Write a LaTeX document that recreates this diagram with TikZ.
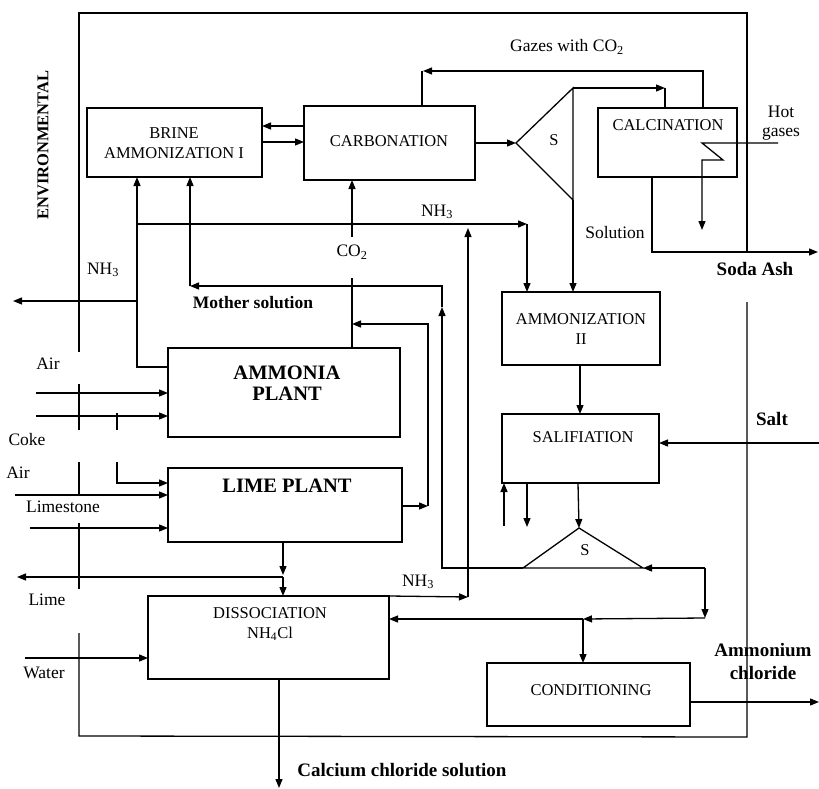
\documentclass[tikz,border=0pt]{standalone}
\usepackage{fontspec}
\setmainfont{Liberation Serif}
\usetikzlibrary{arrows.meta}
\begin{document}
\begin{tikzpicture}[x=1pt,y=-1pt,
  line width=1.3pt,
  box/.style={draw, rectangle, inner sep=0pt, outer sep=0pt},
  arr/.style={-{Triangle[length=9pt,width=7pt]}},
  bt/.style={font=\fontsize{16.5}{20}\selectfont, align=center, inner sep=0pt},
  big/.style={font=\fontsize{20.5}{21}\selectfont\bfseries, align=center, inner sep=0pt},
  lbl/.style={font=\fontsize{17.5}{20}\selectfont, align=center, inner sep=0pt},
  blbl/.style={font=\fontsize{19}{23}\selectfont\bfseries, align=center, inner sep=0pt}]
\useasboundingbox (0,0) rectangle (819,789);

% frame
\draw (79,352) -- (79,13) -- (747,13) -- (747,253);
\draw (747,302) -- (747,737) -- (79,736) -- (79,633);
\draw (79,384) -- (79,430);
\draw (79,462) -- (79,494);
\draw (79,523) -- (79,589);
\node[font=\fontsize{16.5}{18}\selectfont\bfseries, rotate=90, inner sep=0pt] (env) at (43,145) {ENVIRONMENTAL};

% boxes
\node[box, minimum width=175pt, minimum height=69pt] (brine) at (174.5,142.5) {};
\node[box, minimum width=171pt, minimum height=74pt] (carb) at (389.5,143) {};
\node[box, minimum width=139pt, minimum height=69pt] (calc) at (667.5,142.5) {};
\node[box, minimum width=158pt, minimum height=73pt] (amm2) at (581,328.5) {};
\node[box, minimum width=157pt, minimum height=69pt] (sal) at (580.5,448.5) {};
\node[box, minimum width=232pt, minimum height=89pt] (ammp) at (284,392.5) {};
\node[box, minimum width=234pt, minimum height=74pt] (lime) at (285,505) {};
\node[box, minimum width=241pt, minimum height=83pt] (diss) at (268.5,637.5) {};
\node[box, minimum width=203pt, minimum height=63pt] (cond) at (588.5,694.5) {};

% box texts
\node[bt] (tbrine) at (174,143) {BRINE\\AMMONIZATION I};
\node[bt] (tcarb) at (389,141) {CARBONATION};
\node[bt] (tcalc) at (668,125) {CALCINATION};
\node[bt] (tamm2) at (581,329) {AMMONIZATION\\II};
\node[bt] (tsal) at (583,437) {SALIFIATION};
\node[big] (tammp) at (287,383) {AMMONIA\\PLANT};
\node[big] (tlime) at (287,486) {LIME PLANT};
\node[bt] (tdiss) at (270,624) {DISSOCIATION\\NH\textsubscript{4}Cl};
\node[bt] (tcond) at (591,690) {CONDITIONING};

% separators
\coordinate (s1tip) at (516,143);
\coordinate (s1top) at (573,88);
\coordinate (s1bot) at (573,200);
\draw (s1top) -- (s1tip) -- (s1bot) -- cycle;
\node[bt] (ts1) at (554,140) {S};
\coordinate (s2apex) at (579,528);
\coordinate (s2l) at (523,568);
\coordinate (s2r) at (643,568);
\draw (s2apex) -- (s2l) -- (s2r) -- cycle;
\node[bt] (ts2) at (585,550) {S};

% brine <-> carbonation
\draw[arr] (carb.west |- 0,126) -- (brine.east |- 0,126);
\draw[arr] (brine.east |- 0,142) -- (carb.west |- 0,142);
\draw[arr] (carb.east |- s1tip) -- (s1tip);

% S -> calcination
\coordinate (c1) at (665,88);
\draw[arr] (s1top) -- (c1);
\draw (c1) -- (c1 |- calc.north);

% gases with CO2
\coordinate (c2) at (423,71);
\draw[arr] (calc.north -| 703,0) |- (c2);
\draw (422,71) -- (carb.north -| 422,0);
\node[lbl] (tgas) at (567,47) {Gazes with CO\textsubscript{2}};

% hot gases
\coordinate (hot) at (778,143);
\coordinate (hotend) at (702,230);
\draw[arr] (hot) -- (702,143) -- (723,160) -- (702,160) -- (hotend);
\node[lbl, font=\fontsize{17.5}{19.5}\selectfont] (thot) at (781,123) {Hot\\gases};

% soda ash
\coordinate (soda) at (818,252);
\draw[arr] (calc.south -| 652,0) |- (soda);
\node[lbl] (tsol) at (615,233) {Solution};
\node[blbl] (tsoda) at (755,269) {Soda Ash};

% S -> ammonization II
\draw[arr] (s1bot) -- (amm2.north -| s1bot);

% NH3 top line
\coordinate (n1) at (137,224);
\coordinate (c3) at (527,224);
\draw[arr] (n1) -- (c3);
\draw[arr] (c3) -- (c3 |- amm2.north);
\node[lbl] (tnh1) at (437,212) {NH\textsubscript{3}};

% ammonia plant -> brine
\draw[arr] (ammp.west |- 0,367) -| (brine.south -| 137,0);
\coordinate (nh3out) at (13,301);
\draw[arr] (137,301) -- (nh3out);
\node[lbl] (tnh2) at (103,270) {NH\textsubscript{3}};

% mother solution
\draw[arr] (s2l) -| (442,307);
\draw[arr] (442,307) |- (190,286);
\draw[arr] (190,286) -- (brine.south -| 190,0);
\node[blbl, font=\fontsize{17.5}{20}\selectfont\bfseries] (tmother) at (253,303) {Mother solution};

% CO2
\draw (ammp.north -| 352,0) -- (352,278);
\draw[arr] (352,237) -- (carb.south -| 352,0);
\node[lbl] (tco2) at (352,252) {CO\textsubscript{2}};

% lime plant -> CO2
\draw[arr] (lime.east |- 0,506) -- (428,506);
\draw[arr] (428,506) |- (352,324);

% NH3 from dissociation
\draw[arr] (diss.north east) -- (468,597);
\draw[arr] (468,597) -- (468,228);
\node[lbl] (tnh3) at (418,582) {NH\textsubscript{3}};

% lime plant -> dissociation, lime out
\draw[arr] (lime.south -| 283,0) -- (283,575);
\coordinate (limeout) at (17,577);
\draw[arr] (283,577) -- (limeout);
\draw[arr] (283,577) -- (diss.north -| 283,0);
\node[lbl] (tlimeo) at (47,600) {Lime};

% water
\coordinate (water) at (25,658);
\draw[arr] (water) -- (diss.west |- water);
\node[lbl] (twater) at (44,673) {Water};

% calcium chloride
\coordinate (cacl) at (279,788);
\draw[arr] (diss.south -| cacl) -- (cacl);
\node[blbl] (tcacl) at (402,770) {Calcium chloride solution};

% ammonia plant inputs
\coordinate (air1) at (36,393);
\coordinate (coke) at (36,416);
\draw[arr] (air1) -- (ammp.west |- air1);
\draw[arr] (coke) -- (ammp.west |- coke);
\draw (117,413) -- (117,430);
\node[lbl] (tair1) at (48,364) {Air};
\node[lbl] (tcoke) at (27,440) {Coke};

% lime plant inputs
\draw[arr] (117,462) |- (lime.west |- 0,483);
\coordinate (lst) at (15,495);
\draw[arr] (lst) -- (lime.west |- lst);
\coordinate (lst2) at (30,528);
\draw[arr] (lst2) -- (lime.west |- lst2);
\node[lbl] (tair2) at (18,473) {Air};
\node[lbl] (tlst) at (63,507) {Limestone};

% ammonization II -> salification
\draw[arr] (amm2.south -| 580,0) -- (sal.north -| 580,0);

% salt
\coordinate (salt) at (819,443);
\draw[arr] (salt) -- (sal.east |- salt);
\node[blbl] (tsalt) at (772,419) {Salt};

% salification bottom
\draw[arr] (504,526) -- (sal.south -| 504,0);
\draw[arr] (sal.south -| 527,0) -- (527,527);
\draw[arr] (sal.south -| 578,0) -- (s2apex);

% loop at lower S
\coordinate (c5) at (705,568);
\coordinate (c6) at (705,618);
\coordinate (c7) at (583,619);
\draw[arr] (c5) -- (s2r);
\draw[arr] (c5) -- (c6);
\draw[arr] (c6) -- (c7);
\draw[arr] (c7) -- (diss.east |- c7);
\draw[arr] (c7) -- (c7 |- cond.north);

% conditioning -> ammonium chloride
\coordinate (nh4cl) at (819,702);
\draw[arr] (cond.east |- nh4cl) -- (nh4cl);
\node[blbl] (tnh4cl) at (763,661) {Ammonium\\chloride};
\end{tikzpicture}
\end{document}
